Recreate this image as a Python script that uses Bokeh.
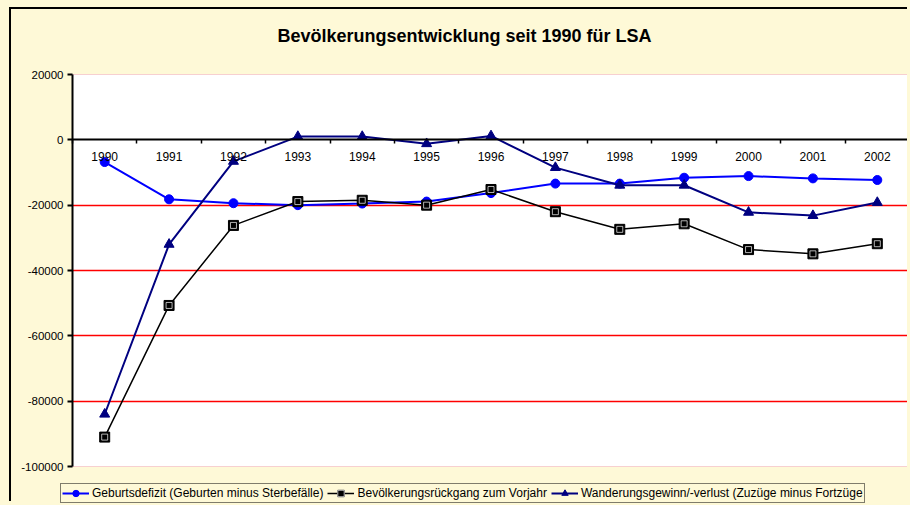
from bokeh.plotting import figure
from bokeh.models import Range1d, FixedTicker, Legend, LegendItem, Grid, BoxAnnotation, Label
from bokeh.embed import file_html
from bokeh.resources import INLINE

# ---- data ----
years = [1990, 1991, 1992, 1993, 1994, 1995, 1996, 1997, 1998, 1999, 2000, 2001, 2002]
geburtsdefizit = [-6800, -18200, -19400, -20000, -19500, -18900, -16300, -13400, -13400, -11600, -11100, -11800, -12300]
rueckgang = [-91000, -50700, -26200, -18900, -18500, -20000, -15200, -22000, -27400, -25700, -33600, -34900, -31800]
wanderung = [-84000, -32000, -6600, 1000, 1000, -1200, 1200, -8500, -13900, -13900, -22200, -23200, -19200]
y_ticks = [20000, 0, -20000, -40000, -60000, -80000, -100000]
labels = ["Geburtsdefizit (Geburten minus Sterbefälle)",
          "Bevölkerungsrückgang zum Vorjahr",
          "Wanderungsgewinn/-verlust (Zuzüge minus Fortzüge"]
title_text = "Bevölkerungsentwicklung seit 1990 für LSA"

# ---- layout constants (pixels) ----
CREAM = "#FEF9D7"
FONT = "Liberation Sans"
W, H = 898, 494
TOP_PAD = 65        # cream space above the plot area (title)
LEFT_PAD = 61       # cream space left of the plot area
BOTTOM_PAD = 37     # cream space below the plot area (legend)

plot_w = W - LEFT_PAD
plot_h = H - TOP_PAD - BOTTOM_PAD
x_lo, x_hi = years[0] - 0.5, years[-1] + 0.5
y_lo, y_hi = min(y_ticks), max(y_ticks)
x_start = x_lo - LEFT_PAD * (x_hi - x_lo) / plot_w
y_start = y_lo - BOTTOM_PAD * (y_hi - y_lo) / plot_h
y_end = y_hi + TOP_PAD * (y_hi - y_lo) / plot_h

p = figure(width=W, height=H, output_backend="svg", toolbar_location=None,
           x_range=Range1d(x_start, x_hi), y_range=Range1d(y_start, y_end),
           min_border_left=0, min_border_right=0, min_border_top=0, min_border_bottom=0)
p.styles = {"border-left": "2px solid black", "border-top": "2px solid black"}
p.background_fill_color = CREAM
p.border_fill_color = CREAM
p.outline_line_color = None

# white plot area
p.add_layout(BoxAnnotation(left=x_lo, right=x_hi, bottom=y_lo, top=y_hi,
                           fill_color="white", fill_alpha=1, line_color=None, level="image"))

# title
p.add_layout(Label(x=266, y=H - 26, x_units="screen", y_units="screen", text=title_text,
                   text_font=FONT, text_font_size="18px", text_font_style="bold",
                   text_color="black", text_align="left", text_baseline="middle"))

# y axis at the left edge of the plot area
p.yaxis.fixed_location = x_lo
p.yaxis.bounds = (y_lo, y_hi)
p.yaxis.ticker = FixedTicker(ticks=y_ticks)
p.yaxis.major_label_overrides = {t: str(t) for t in y_ticks}
p.yaxis.major_label_text_font = FONT
p.yaxis.major_label_text_font_size = "11.5px"
p.yaxis.major_label_text_color = "black"
p.yaxis.major_tick_out = 5
p.yaxis.major_tick_in = 0
p.yaxis.minor_tick_out = 0
p.yaxis.minor_tick_in = 0
p.yaxis.axis_line_width = 2
p.yaxis.major_tick_line_width = 2
p.yaxis.major_label_standoff = 4

# x axis at zero
bounds = [y - 0.5 for y in years] + [x_hi]
p.xaxis.fixed_location = 0
p.xaxis.bounds = (x_lo, x_hi)
p.xaxis.ticker = FixedTicker(ticks=years, minor_ticks=bounds)
p.xaxis.major_label_overrides = {y: str(y) for y in years}
p.xaxis.major_tick_out = 0
p.xaxis.major_tick_in = 0
p.xaxis.minor_tick_out = 4
p.xaxis.minor_tick_in = 0
p.xaxis.minor_tick_line_width = 1.5
p.xaxis.axis_line_width = 2
p.xaxis.major_label_text_font = FONT
p.xaxis.major_label_text_font_size = "12px"
p.xaxis.major_label_text_color = "black"
p.xaxis.major_label_standoff = 8

# grids
p.xgrid.visible = False
p.ygrid.ticker = FixedTicker(ticks=[t for t in y_ticks if t not in (0, y_hi, y_lo)])
p.ygrid.grid_line_color = "red"
p.ygrid.grid_line_width = 1.5
p.ygrid.cross_bounds = (x_lo, x_hi)
edge_grid = Grid(dimension=1, ticker=FixedTicker(ticks=[y_hi, y_lo]), cross_bounds=(x_lo, x_hi),
                 grid_line_color="#F7D0D0", grid_line_width=1)
p.add_layout(edge_grid)

# series
r1l = p.line(years, geburtsdefizit, line_color="#0000FF", line_width=2)
r1m = p.scatter(years, geburtsdefizit, marker="circle", size=9, fill_color="#0000FF", line_color="#0000FF")
r2l = p.line(years, rueckgang, line_color="black", line_width=1.5)
r2m = p.scatter(years, rueckgang, marker="square", size=10, fill_color="black", line_color="black")
r2i = p.scatter(years, rueckgang, marker="square", size=6, fill_color="black", line_color="white", line_width=0.7)
r3l = p.line(years, wanderung, line_color="#000080", line_width=2)
r3m = p.scatter(years, wanderung, marker="triangle", size=10, fill_color="#000080", line_color="#000080")

legend = Legend(items=[LegendItem(label=labels[0], renderers=[r1l, r1m]),
                       LegendItem(label=labels[1], renderers=[r2l, r2m, r2i]),
                       LegendItem(label=labels[2], renderers=[r3l, r3m])],
                orientation="horizontal", location=(49, 0))
legend.border_line_color = "black"
legend.border_line_width = 1
legend.background_fill_color = CREAM
legend.background_fill_alpha = 1
legend.label_text_font = FONT
legend.label_text_font_size = "12px"
legend.label_text_color = "black"
legend.label_height = 12
legend.glyph_height = 16
legend.glyph_width = 27
legend.label_standoff = 3
legend.spacing = 4
legend.padding = 1
legend.margin = 0
p.add_layout(legend)

html = file_html(p, INLINE)
style = ("<style>html, body { background-color: %s; margin: 0; } "
         "body { padding: 7px 0 0 9px; box-sizing: border-box; }</style>" % CREAM)
html = html.replace("</head>", style + "</head>", 1)
open("out.html", "w").write(html)
